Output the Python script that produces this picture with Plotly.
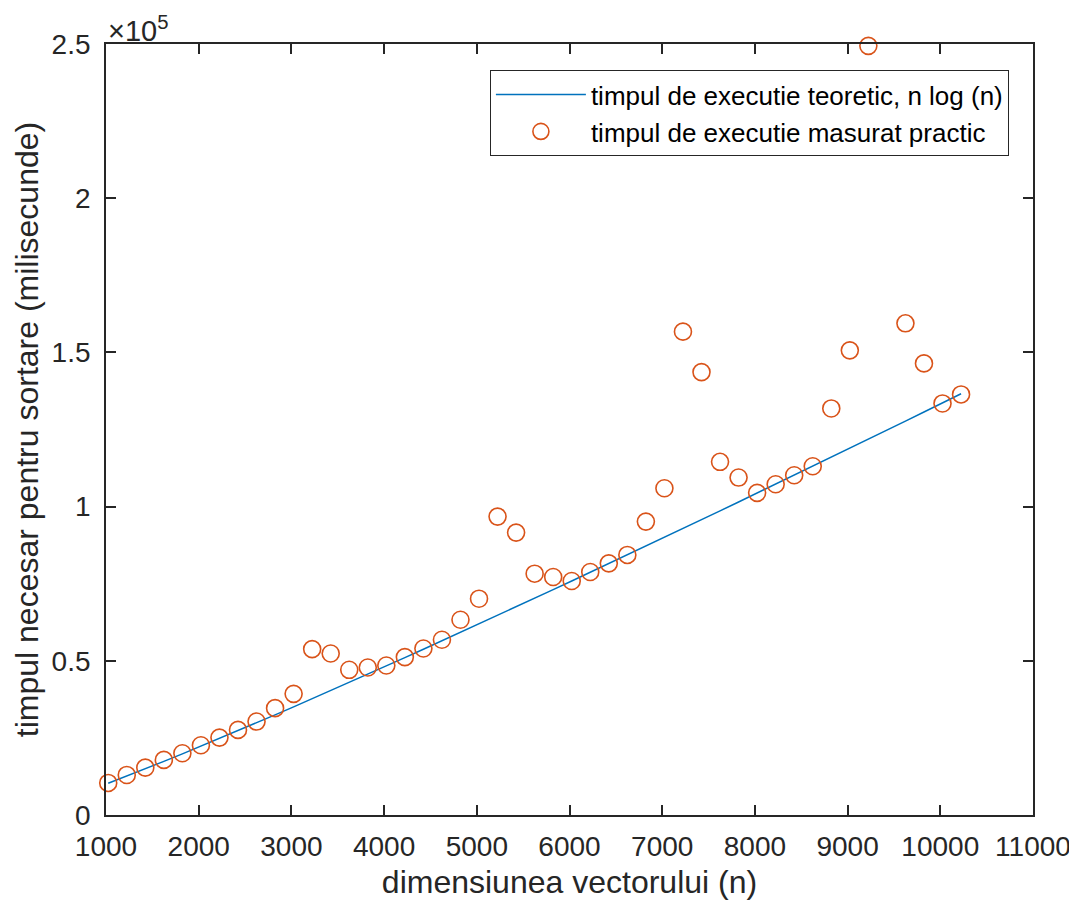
import plotly.graph_objects as go

n_values = [1024, 1224, 1424, 1624, 1824, 2024, 2224, 2424, 2624, 2824,
            3024, 3224, 3424, 3624, 3824, 4024, 4224, 4424, 4624, 4824,
            5024, 5224, 5424, 5624, 5824, 6024, 6224, 6424, 6624, 6824,
            7024, 7224, 7424, 7624, 7824, 8024, 8224, 8424, 8624, 8824,
            9024, 9224, 9424, 9624, 9824, 10024, 10224]

theoretical = [10271, 12592, 14962, 17372, 19818, 22296, 24803, 27335, 29891, 32469,
               35069, 37687, 40324, 42976, 45646, 48330, 51027, 53740, 56465, 59203,
               61953, 64714, 67487, 70269, 73063, 75866, 78679, 81501, 84333, 87173,
               90021, 92879, 95742, 98616, 101495, 104384, 107279, 110180, 113089, 116005,
               118926, 121853, 124789, 127730, 130676, 133629, 136587]

measured = [10400, 12990, 15360, 17860, 20030, 22630, 25100, 27600, 30300, 34650,
            39290, 53800, 52370, 47080, 47830, 48480, 51200, 54000, 56820, 63320,
            70140, 96760, 91570, 78250, 77180, 75880, 78800, 81600, 84330, 95140,
            105950, 156730, 143620, 114520, 109420, 104460, 107250, 110170, 113090, 131830,
            150660, 249400, None, 159430, 146440, 133450, 136370]

x_ticks = [1000, 2000, 3000, 4000, 5000, 6000, 7000, 8000, 9000, 10000, 11000]
x_tick_labels = ["1000", "2000", "3000", "4000", "5000", "6000", "7000", "8000",
                 "9000", "10000", "11000"]
y_ticks = [0, 50000, 100000, 150000, 200000, 250000]
y_tick_labels = ["0", "0.5", "1", "1.5", "2", "2.5"]

FONT = "Liberation Sans, Arial, Helvetica, sans-serif"
AX = "#262626"

fig = go.Figure()
fig.add_trace(go.Scatter(
    x=n_values, y=theoretical, mode="lines",
    line=dict(color="#0072BD", width=1.5),
    name="timpul de executie teoretic, n log (n)",
))
fig.add_trace(go.Scatter(
    x=n_values, y=measured, mode="markers",
    marker=dict(symbol="circle-open", size=17, color="#D95319",
                line=dict(width=1.6, color="#D95319")),
    name="timpul de executie masurat practic",
    cliponaxis=False,
))

axis_common = dict(
    showgrid=False, zeroline=False, showline=True, linecolor=AX, linewidth=1.8,
    mirror="ticks", ticks="inside", ticklen=10, tickwidth=1.8, tickcolor=AX,
    tickfont=dict(family=FONT, size=28, color=AX), automargin=False,
)

fig.update_layout(
    width=1069, height=899,
    margin=dict(l=98, r=44, t=36, b=92),
    paper_bgcolor="white", plot_bgcolor="white",
    font=dict(family=FONT, color=AX),
    xaxis=dict(range=[1000, 11000], tickvals=x_ticks, ticktext=x_tick_labels,
               ticklabelstandoff=5,
               title=dict(text="dimensiunea vectorului (n)",
                          font=dict(family=FONT, size=32, color=AX), standoff=10),
               **axis_common),
    yaxis=dict(range=[0, 250000], tickvals=y_ticks, ticktext=y_tick_labels,
               ticklabelstandoff=8,
               title=dict(text="timpul necesar pentru sortare (milisecunde)",
                          font=dict(family=FONT, size=32, color=AX), standoff=3),
               **axis_common),
    legend=dict(x=0.974, y=0.966, xanchor="right", yanchor="top",
                bordercolor=AX, borderwidth=1, bgcolor="white",
                font=dict(family=FONT, size=26, color="black"),
                itemwidth=90, tracegroupgap=0),
    showlegend=True,
    annotations=[dict(text="\u00d710<sup>5</sup>", xref="paper", yref="paper",
                      x=0.0, y=1.0, xanchor="left", yanchor="bottom",
                      showarrow=False, xshift=0, yshift=-5,
                      font=dict(family=FONT, size=29, color=AX))],
)

fig.write_html("out.html")
